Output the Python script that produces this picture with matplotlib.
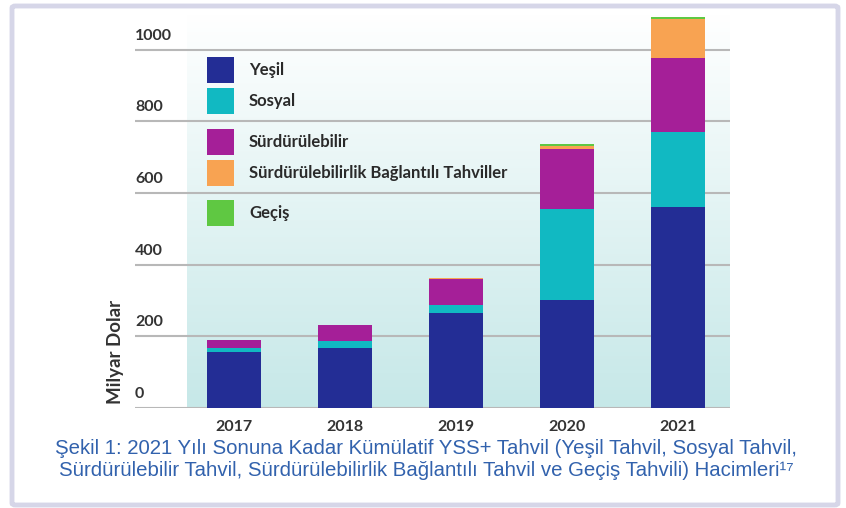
import numpy as np
import matplotlib
matplotlib.use('Agg')
import matplotlib.pyplot as plt
import matplotlib.transforms as mtransforms
from matplotlib.patches import FancyBboxPatch, Rectangle

# Veriler (milyar dolar)
yillar = ['2017', '2018', '2019', '2020', '2021']
yesil = [156, 167, 265, 302, 560]
sosyal = [11, 21, 23, 254, 210]
surdurulebilir = [23, 44, 72, 167, 207]
slb = [0, 0, 2, 9, 108]
gecis = [0, 0, 1, 5, 6]

seri_adlari = ['Yeşil', 'Sosyal', 'Sürdürülebilir',
               'Sürdürülebilirlik Bağlantılı Tahviller', 'Geçiş']
renkler = ['#232d95', '#11b9c2', '#a51f98', '#f8a352', '#5fc842']
y_ticks = [0, 200, 400, 600, 800, 1000]

W, H = 846, 508
fig = plt.figure(figsize=(W / 100, H / 100), dpi=100)

# dış çerçeve
fig.patches.append(FancyBboxPatch((12 / W, 3 / H), 826 / W, 499 / H,
                                  boxstyle='round,pad=0,rounding_size=0.004',
                                  transform=fig.transFigure, facecolor='white',
                                  edgecolor='#d6d6e8', linewidth=3.5, zorder=-5))

ax = fig.add_axes([135 / W, (H - 408) / H, 595 / W, (408 - 14) / H])
ax.set_facecolor('none')
ax.set_zorder(1)

x = np.arange(len(yillar))
x_left, x_right = -0.892, 4.468
ax.set_xlim(x_left, x_right)
ax.set_ylim(0, 1100)

# arka plan gradyanı
grad = np.linspace(0, 1, 256).reshape(-1, 1)
cmap = matplotlib.colors.LinearSegmentedColormap.from_list('bg', ['#c6e8e8', '#ffffff'])
ax.imshow(grad, extent=[-0.423, x_right, 0, 1100], origin='lower', cmap=cmap,
          aspect='auto', zorder=0)

# yatay çizgiler
for t in y_ticks:
    ax.axhline(t, color='#b8b8b8', linewidth=1.5, zorder=1)

seriler = [yesil, sosyal, surdurulebilir, slb, gecis]
alt = np.zeros(len(yillar))
for deger, renk in zip(seriler, renkler):
    ax.bar(x, deger, bottom=alt, width=0.48, color=renk, zorder=2)
    alt += np.array(deger)

for s in ax.spines.values():
    s.set_visible(False)
ax.set_xticks([])
ax.set_yticks([])

# y ekseni etiketleri (çizgilerin üstünde)
offset = mtransforms.ScaledTranslation(0, 14 / 100, fig.dpi_scale_trans)
for t in y_ticks:
    ax.text(0, t, str(t), transform=ax.get_yaxis_transform() + offset,
            ha='left', va='center', fontsize=11.5, fontweight='bold',
            family='Lato', color='#333333')

# x ekseni etiketleri
for xi, yil in zip(x, yillar):
    ax.text(xi, -19 / 0.358, yil, ha='center', va='center', fontsize=11.5,
            fontweight='bold', family='Lato', color='#333333', clip_on=False)

fig.text(115 / W, (H - 352) / H, 'Milyar Dolar', rotation=90, ha='center',
         va='center', fontsize=13.5, fontweight='bold', family='Lato', color='#333333')

# lejant
leg_y = [70, 101, 142, 173, 213]
for ad, renk, ly in zip(seri_adlari, renkler, leg_y):
    fig.patches.append(Rectangle((207 / W, (H - ly - 13) / H), 27 / W, 26 / H,
                                 transform=fig.transFigure, facecolor=renk,
                                 edgecolor='none', zorder=5))
    fig.text(249 / W, (H - ly) / H, ad, ha='left', va='center', fontsize=12,
             fontweight='bold', family='Lato', color='#2a2a2a', zorder=6)

# alt yazı
fig.text(426 / W, (H - 448) / H,
         'Şekil 1: 2021 Yılı Sonuna Kadar Kümülatif YSS+ Tahvil (Yeşil Tahvil, Sosyal Tahvil,',
         ha='center', va='center', fontsize=14.7, family='Liberation Sans', color='#3262ad')
fig.text(426 / W, (H - 470) / H,
         'Sürdürülebilir Tahvil, Sürdürülebilirlik Bağlantılı Tahvil ve Geçiş Tahvili) Hacimleri¹⁷',
         ha='center', va='center', fontsize=14.7, family=['Liberation Sans', 'DejaVu Sans'],
         color='#3262ad')

fig.savefig('out.png', dpi=100)
